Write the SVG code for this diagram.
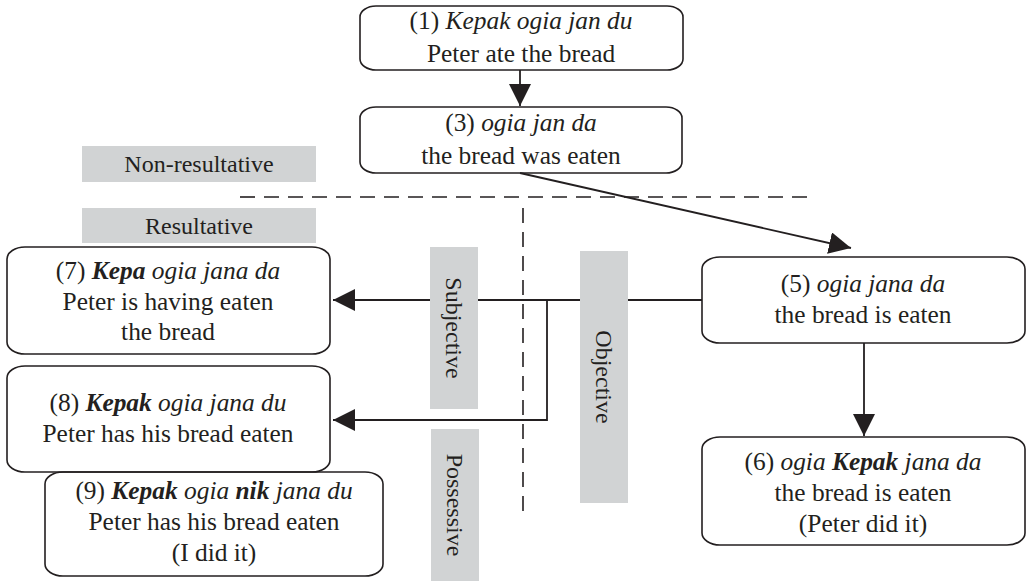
<svg xmlns="http://www.w3.org/2000/svg" width="1028" height="584" viewBox="0 0 1028 584">
<style>
.box{fill:none;stroke:#231f20;stroke-width:1.6}
.lbl{fill:#d1d3d4}
.t{font-family:'Liberation Serif','Times New Roman',serif;font-size:25.4px;fill:#231f20;text-anchor:middle}
.l{font-family:'Liberation Serif','Times New Roman',serif;font-size:24px;fill:#231f20;text-anchor:middle}
.i{font-style:italic}
.b{font-weight:bold;font-style:italic}
.c{fill:none;stroke:#231f20;stroke-width:1.8}
.d{fill:none;stroke:#231f20;stroke-width:1.6;stroke-dasharray:15 9}
</style>
<defs>
<marker id="ah" markerUnits="userSpaceOnUse" markerWidth="22" markerHeight="22" viewBox="0 0 20 20" refX="20" refY="10" orient="auto">
<path d="M0,0 L20,10 L0,20 Z" fill="#231f20"/>
</marker>
</defs>
<rect width="1028" height="584" fill="#fff"/>

<g id="dividers">
<line class="d" x1="240" y1="197" x2="814" y2="197"/>
<line class="d" x1="523" y1="208" x2="523" y2="512"/>
</g>

<g id="connectors">
<line class="c" x1="520" y1="70" x2="520" y2="106" marker-end="url(#ah)"/>
<line class="c" x1="520" y1="173" x2="851" y2="248" marker-end="url(#ah)"/>
<line class="c" x1="702" y1="300" x2="333" y2="300" marker-end="url(#ah)"/>
<polyline class="c" points="547,300 547,420 333,420" marker-end="url(#ah)"/>
<line class="c" x1="864" y1="343" x2="864" y2="436" marker-end="url(#ah)"/>
</g>

<g id="label-nonresultative">
<rect class="lbl" x="82" y="146" width="234" height="36"/>
<text class="l" x="199" y="172">Non-resultative</text>
</g>
<g id="label-resultative">
<rect class="lbl" x="82" y="208" width="234" height="35"/>
<text class="l" x="199" y="234">Resultative</text>
</g>
<g id="label-subjective">
<rect class="lbl" x="430" y="247" width="48" height="162"/>
<text class="l" transform="translate(454,328) rotate(90)" x="0" y="8">Subjective</text>
</g>
<g id="label-objective">
<rect class="lbl" x="580" y="251" width="48" height="252"/>
<text class="l" transform="translate(604,377) rotate(90)" x="0" y="8">Objective</text>
</g>
<g id="label-possessive">
<rect class="lbl" x="431" y="429" width="48" height="152"/>
<text class="l" transform="translate(455,505) rotate(90)" x="0" y="8">Possessive</text>
</g>

<g id="node1">
<rect class="box" x="360" y="6" width="323" height="64" rx="16" ry="11"/>
<text class="t" x="521" y="29">(1) <tspan class="i">Kepak ogia jan du</tspan></text>
<text class="t" x="521" y="62">Peter ate the bread</text>
</g>
<g id="node3">
<rect class="box" x="360" y="107" width="322" height="66" rx="16" ry="11"/>
<text class="t" x="521" y="131">(3) <tspan class="i">ogia jan da</tspan></text>
<text class="t" x="521" y="164">the bread was eaten</text>
</g>
<g id="node5">
<rect class="box" x="702" y="257" width="323" height="86" rx="18" ry="12"/>
<text class="t" x="863" y="292">(5) <tspan class="i">ogia jana da</tspan></text>
<text class="t" x="863" y="323">the bread is eaten</text>
</g>
<g id="node6">
<rect class="box" x="702" y="437" width="323" height="108" rx="18" ry="12"/>
<text class="t" x="863" y="470">(6) <tspan class="i">ogia </tspan><tspan class="b">Kepak</tspan><tspan class="i"> jana da</tspan></text>
<text class="t" x="863" y="501">the bread is eaten</text>
<text class="t" x="863" y="532">(Peter did it)</text>
</g>
<g id="node7">
<rect class="box" x="7" y="247" width="323" height="107" rx="18" ry="12"/>
<text class="t" x="168" y="279">(7) <tspan class="b">Kepa</tspan><tspan class="i"> ogia jana da</tspan></text>
<text class="t" x="168" y="310">Peter is having eaten</text>
<text class="t" x="168" y="340">the bread</text>
</g>
<g id="node8">
<rect class="box" x="7" y="366" width="323" height="106" rx="18" ry="12"/>
<text class="t" x="168" y="411">(8) <tspan class="b">Kepak</tspan><tspan class="i"> ogia jana du</tspan></text>
<text class="t" x="168" y="442">Peter has his bread eaten</text>
</g>
<g id="node9">
<rect class="box" x="45" y="472" width="338" height="104" rx="18" ry="12"/>
<text class="t" x="214" y="499">(9) <tspan class="b">Kepak</tspan><tspan class="i"> ogia </tspan><tspan class="b">nik</tspan><tspan class="i"> jana du</tspan></text>
<text class="t" x="214" y="530">Peter has his bread eaten</text>
<text class="t" x="214" y="561">(I did it)</text>
</g>
</svg>
